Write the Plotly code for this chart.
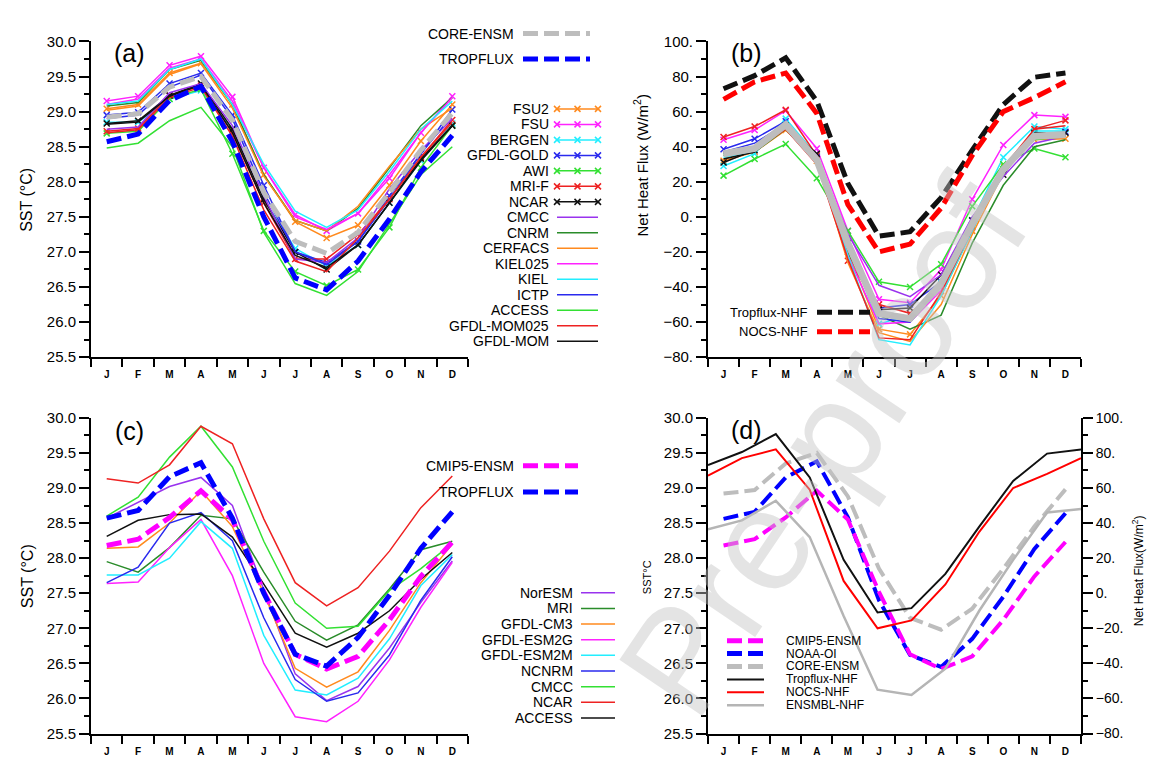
import plotly.graph_objects as go

W, H = 1155, 758
FONT = "Liberation Sans, Arial, sans-serif"

months = ["J", "F", "M", "A", "M", "J", "J", "A", "S", "O", "N", "D"]
mi = list(range(12))

# ---------------- Panel (a): SST of CORE-II models ----------------
sst_fsu2 = [29.04, 29.10, 29.55, 29.69, 29.10, 28.10, 27.43, 27.20, 27.38, 27.95, 28.58, 29.10]
sst_fsu = [29.15, 29.22, 29.66, 29.79, 29.21, 28.20, 27.53, 27.30, 27.55, 28.05, 28.70, 29.22]
sst_bergen = [28.85, 28.85, 29.18, 29.30, 28.75, 27.75, 27.05, 26.80, 27.10, 27.70, 28.30, 28.83]
sst_gold = [28.95, 28.99, 29.40, 29.55, 28.95, 27.95, 27.00, 26.85, 27.15, 27.80, 28.40, 29.03]
sst_awi = [28.69, 28.72, 29.18, 29.32, 28.40, 27.30, 26.72, 26.52, 26.75, 27.35, 28.20, 28.80]
sst_mrif = [28.72, 28.76, 29.23, 29.37, 28.70, 27.70, 26.90, 26.90, 27.25, 27.75, 28.35, 28.88]
sst_ncar = [28.83, 28.87, 29.23, 29.40, 28.75, 27.75, 27.00, 26.75, 27.10, 27.70, 28.33, 28.80]
sst_cmcc = [28.75, 28.78, 29.27, 29.40, 28.80, 27.80, 26.90, 26.85, 27.20, 27.90, 28.45, 28.90]
sst_cnrm = [29.08, 29.13, 29.60, 29.73, 29.10, 28.10, 27.45, 27.30, 27.62, 28.20, 28.80, 29.20]
sst_cerfacs = [29.02, 29.08, 29.53, 29.68, 29.05, 28.08, 27.45, 27.30, 27.65, 28.22, 28.75, 29.05]
sst_kiel025 = [29.10, 29.18, 29.62, 29.75, 29.15, 28.20, 27.50, 27.32, 27.55, 28.10, 28.70, 29.20]
sst_kiel = [29.10, 29.15, 29.60, 29.75, 29.10, 28.25, 27.58, 27.35, 27.60, 28.15, 28.75, 29.15]
sst_ictp = [28.90, 28.95, 29.35, 29.52, 28.90, 27.85, 27.00, 26.82, 27.15, 27.75, 28.40, 28.95]
sst_access = [28.48, 28.55, 28.87, 29.06, 28.50, 27.28, 26.55, 26.38, 26.72, 27.40, 28.10, 28.50]
sst_mom025 = [28.70, 28.74, 29.20, 29.35, 28.65, 27.60, 26.87, 26.72, 27.20, 27.75, 28.35, 28.85]
sst_mom = [28.82, 28.85, 29.22, 29.38, 28.70, 27.70, 26.95, 26.78, 27.10, 27.70, 28.30, 28.80]
sst_core_ensm = [28.92, 28.97, 29.35, 29.50, 28.88, 27.85, 27.15, 26.98, 27.28, 27.85, 28.45, 28.98]
sst_tropflux = [28.57, 28.68, 29.16, 29.36, 28.57, 27.50, 26.63, 26.46, 26.87, 27.47, 28.14, 28.66]

# ---------------- Panel (b): net heat flux of CORE-II models ----------------
nhf_fsu2 = [32, 37, 49.5, 32, -20, -64, -67, -45, -8, 29, 44, 44.5]
nhf_fsu = [44, 49.5, 60.5, 39, -8, -47, -49, -30, 10, 41, 58, 57]
nhf_bergen = [29, 36, 56, 35, -15, -61, -56, -38, -2, 34, 51.5, 50]
nhf_gold = [38.5, 44.5, 54.5, 34, -12, -52, -50, -37, -6, 26, 47, 48.5]
nhf_awi = [23.5, 33, 41.5, 22, -8, -37, -40, -27, 6, 30, 39, 34]
nhf_mrif = [45.5, 51.5, 61, 35, -25, -50, -55, -40, -5, 26, 50, 55]
nhf_ncar = [31, 38, 52, 36, -15, -53, -52, -33, -2, 24, 48, 48]
nhf_cmcc = [36, 38, 51, 35, -10, -39, -45.5, -33, 0, 23, 42, 46]
nhf_cnrm = [35, 37, 50, 31, -20, -56, -64, -56, -15, 18, 40, 44]
nhf_cerfacs = [33, 38, 51, 33, -26, -66, -71, -50, -10, 25, 45, 45]
nhf_kiel025 = [37, 39, 52, 33, -22, -61, -60, -42, -4, 27, 46, 46]
nhf_kiel = [34, 37, 53, 33, -22, -70, -73, -45, -8, 28, 49, 49]
nhf_ictp = [37, 42, 53, 34, -18, -58, -60, -40, -5, 26, 45, 47]
nhf_access = [36, 40, 52, 31, -15, -55, -58, -40, -3, 26, 44, 46]
nhf_mom025 = [37, 38, 50, 30, -24, -69, -70, -43, -7, 28, 50, 52]
nhf_mom = [33, 37, 52, 34, -16, -55, -58, -36, -3, 27, 47, 47]
nhf_core_ensm = [36, 39, 52.5, 32.5, -15, -55, -58, -38, -4, 27, 46, 47]
nhf_tropflux = [73, 80.5, 90.7, 66, 19, -11, -8.5, 11, 38, 64, 79.6, 82]
nhf_nocs = [67, 77, 82, 59, 7, -20, -15.5, 5, 35, 60, 68, 77]

# ---------------- Panel (c): SST of CMIP5 models ----------------
c_noresm = [28.57, 28.79, 29.02, 29.15, 28.75, 27.55, 26.35, 25.97, 26.17, 26.72, 27.37, 27.96]
c_mri = [27.95, 27.80, 28.15, 28.61, 28.56, 27.80, 27.10, 26.83, 27.05, 27.56, 28.12, 28.24]
c_cm3 = [28.14, 28.16, 28.50, 28.96, 28.45, 27.50, 26.43, 26.16, 26.38, 26.97, 27.65, 28.20]
c_esm2g = [27.64, 27.66, 28.15, 28.55, 27.75, 26.50, 25.74, 25.67, 25.96, 26.55, 27.30, 27.94]
c_esm2m = [27.76, 27.76, 28.00, 28.52, 28.14, 26.90, 26.12, 26.05, 26.29, 26.85, 27.61, 28.05]
c_ncnrm = [27.65, 27.87, 28.50, 28.65, 28.25, 27.15, 26.27, 25.96, 26.08, 26.62, 27.40, 28.02]
c_cmcc = [28.60, 28.87, 29.44, 29.88, 29.30, 28.24, 27.36, 27.00, 27.03, 27.54, 27.85, 28.21]
c_ncar = [29.13, 29.07, 29.33, 29.88, 29.63, 28.56, 27.65, 27.32, 27.58, 28.10, 28.72, 29.17]
c_access = [28.31, 28.54, 28.62, 28.63, 28.30, 27.63, 26.93, 26.73, 26.93, 27.25, 27.70, 28.08]
sst_cmip5_ensm = [28.18, 28.27, 28.58, 28.96, 28.55, 27.52, 26.63, 26.42, 26.60, 27.12, 27.74, 28.23]

# ---------------- Panel (d) ----------------
sst_noaa_oi = [28.56, 28.66, 29.15, 29.38, 28.58, 27.40, 26.62, 26.45, 26.85, 27.45, 28.13, 28.64]
nhf_ensmbl = [36.5, 41.5, 52.7, 32, -13, -55, -58, -43, -10, 19, 46, 48]

a_names = ["FSU2", "FSU", "BERGEN", "GFDL-GOLD", "AWI", "MRI-F", "NCAR", "CMCC", "CNRM",
           "CERFACS", "KIEL025", "KIEL", "ICTP", "ACCESS", "GFDL-MOM025", "GFDL-MOM"]
c_names = ["NorESM", "MRI", "GFDL-CM3", "GFDL-ESM2G", "GFDL-ESM2M", "NCNRM", "CMCC", "NCAR", "ACCESS"]
nhf_ticks = [-80, -60, -40, -20, 0, 20, 40, 60, 80, 100]

# ---------------- styles ----------------
ORANGE = "#ff8a1e"
MAGENTA = "#ff22ff"
CYAN = "#22eeff"
BLUE = "#2a2aee"
GREEN = "#33e033"
RED = "#ee2222"
BLACK = "#111111"
PURPLE = "#9933ee"
DKGREEN = "#2a8c2a"
GRAY = "#bdbdbd"
DASH = "15px,6px"

a_sst = [sst_fsu2, sst_fsu, sst_bergen, sst_gold, sst_awi, sst_mrif, sst_ncar, sst_cmcc, sst_cnrm,
         sst_cerfacs, sst_kiel025, sst_kiel, sst_ictp, sst_access, sst_mom025, sst_mom]
a_nhf = [nhf_fsu2, nhf_fsu, nhf_bergen, nhf_gold, nhf_awi, nhf_mrif, nhf_ncar, nhf_cmcc, nhf_cnrm,
         nhf_cerfacs, nhf_kiel025, nhf_kiel, nhf_ictp, nhf_access, nhf_mom025, nhf_mom]
a_colors = [ORANGE, MAGENTA, CYAN, BLUE, GREEN, RED, BLACK, PURPLE, DKGREEN,
            ORANGE, MAGENTA, CYAN, BLUE, GREEN, RED, BLACK]
a_marks = [True] * 7 + [False] * 9
c_vals = [c_noresm, c_mri, c_cm3, c_esm2g, c_esm2m, c_ncnrm, c_cmcc, c_ncar, c_access]
c_colors = [PURPLE, DKGREEN, ORANGE, MAGENTA, CYAN, BLUE, GREEN, RED, BLACK]


def px(x):
    return x / W


def py(y):
    return 1 - y / H


fig = go.Figure()


def add(x, y, xa, ya, color, width=1.5, dash=None, marker=False):
    kw = dict(x=x, y=y, xaxis=xa, yaxis=ya, showlegend=False, hoverinfo="skip",
              line=dict(color=color, width=width, dash=dash),
              mode="lines+markers" if marker else "lines")
    if marker:
        kw["marker"] = dict(symbol="x-thin", size=6, line=dict(color=color, width=1.5))
    fig.add_trace(go.Scatter(**kw))


# panel (a)
for vals, col, mk in zip(a_sst, a_colors, a_marks):
    add(mi, vals, "x", "y", col, 1.5, None, mk)
add(mi, sst_core_ensm, "x", "y", GRAY, 5, DASH)
add(mi, sst_tropflux, "x", "y", "#0000ff", 5, DASH)

# panel (b)
for vals, col, mk in zip(a_nhf, a_colors, a_marks):
    add(mi, vals, "x2", "y2", col, 1.5, None, mk)
add(mi, nhf_core_ensm, "x2", "y2", GRAY, 7)
add(mi, nhf_tropflux, "x2", "y2", BLACK, 5, DASH)
add(mi, nhf_nocs, "x2", "y2", "#ff0000", 5, DASH)

# panel (c)
for vals, col in zip(c_vals, c_colors):
    add(mi, vals, "x3", "y3", col, 1.5)
add(mi, sst_cmip5_ensm, "x3", "y3", "#ff00ff", 5, DASH)
add(mi, sst_tropflux, "x3", "y3", "#0000ff", 5, DASH)

# panel (d)
add(mi, sst_core_ensm, "x4", "y4", GRAY, 4, DASH)
add(mi, sst_noaa_oi, "x4", "y4", "#0000ff", 4, DASH)
add(mi, sst_cmip5_ensm, "x4", "y4", "#ff00ff", 4, DASH)
add(mi, nhf_ensmbl, "x5", "y5", "#b5b5b5", 2.5)
add(mi, nhf_tropflux, "x5", "y5", BLACK, 2)
add(mi, nhf_nocs, "x5", "y5", "#ff0000", 2)

# ---------------- legends (helper axis in pixel units) ----------------
ann = []


def leg_line(x0, x1, yy, color, width=1.5, dash=None, marker=False):
    xs = [x0, (x0 + x1) / 2, x1]
    add(xs, [yy] * 3, "x6", "y6", color, width, dash, marker)


def text(x, y, s, size=14, anchor="right", angle=0, color="black", weight="normal"):
    ann.append(dict(x=px(x), y=py(y), xref="paper", yref="paper", text=s, showarrow=False,
                    xanchor=anchor, yanchor="middle", textangle=angle,
                    font=dict(family=FONT, size=size, color=color, weight=weight)))


# watermark (drawn first so it sits beneath the other annotations)
ann.append(dict(x=px(815), y=py(440), xref="paper", yref="paper", text="Pre-proof",
                showarrow=False, xanchor="center", yanchor="middle", textangle=-56,
                font=dict(family=FONT, size=145, color="rgba(195,195,195,0.45)")))

# (a) top legend
text(508, 17, "CORE-ENSM", 14)
leg_line(515, 582, 17, GRAY, 5, DASH)
text(508, 43, "TROPFLUX", 14)
leg_line(515, 582, 43, "#0000ff", 5, DASH)
# (a) model legend
for i, (nm, col, mk) in enumerate(zip(a_names, a_colors, a_marks)):
    yy = 94 + i * 15.85
    text(543, yy, nm, 14)
    leg_line(549, 590, yy, col, 1.5, None, mk)

# (b) legend
text(802, 302, "Tropflux-NHF", 13)
leg_line(809, 862, 302, BLACK, 5, DASH)
text(802, 322, "NOCS-NHF", 13)
leg_line(809, 862, 322, "#ff0000", 5, DASH)

# (c) legends
text(508, 459, "CMIP5-ENSM", 14)
leg_line(515, 570, 459, "#ff00ff", 5, DASH)
text(508, 486, "TROPFLUX", 14)
leg_line(515, 570, 486, "#0000ff", 5, DASH)
for i, (nm, col) in enumerate(zip(c_names, c_colors)):
    yy = 589 + i * 16
    text(567, yy, nm, 14)
    leg_line(573, 607, yy, col, 1.5)

# (d) legend
d_leg = [("CMIP5-ENSM", "#ff00ff", 5, DASH), ("NOAA-OI", "#0000ff", 5, DASH),
         ("CORE-ENSM", GRAY, 5, DASH), ("Tropflux-NHF", BLACK, 2, None),
         ("NOCS-NHF", "#ff0000", 2, None), ("ENSMBL-NHF", "#b5b5b5", 2.5, None)]
for i, (nm, col, wd, ds) in enumerate(d_leg):
    yy = 638 + i * 13.2
    text(776, yy, nm, 12, anchor="left")
    leg_line(719, 756, yy, col, wd, ds)

# panel labels & axis titles
text(121, 37, "(a)", 25, anchor="center")
text(738, 37, "(b)", 25, anchor="center")
text(121, 424, "(c)", 25, anchor="center")
text(738, 422, "(d)", 25, anchor="center")
text(19, 187, "SST (°C)", 16, anchor="center", angle=-90)
text(19, 572, "SST (°C)", 16, anchor="center", angle=-90)
text(633, 152, "Net Heat Flux (W/m<sup>2</sup>)", 15, anchor="center", angle=-90)
text(639, 573, "SST°C", 11, anchor="center", angle=-90)
text(1130, 567, "Net Heat Flux(W/m<sup>2</sup>)", 12, anchor="center", angle=-90)

# ---------------- axes ----------------
XA = [px(83), px(460)]
XB = [px(700), px(1073)]
YT = [py(348), py(25)]
YB = [py(733), py(410)]


def xax(domain, anchor):
    return dict(domain=domain, anchor=anchor, range=[-0.5, 11.5], tickmode="array",
                tickvals=mi, ticktext=months, ticks="", showline=True, linecolor="black",
                linewidth=2, showgrid=False, zeroline=False, ticklabelstandoff=7,
                tickfont=dict(family=FONT, size=10, color="black", weight="bold"),
                minor=dict(ticks="outside", tickmode="linear", tick0=-0.5, dtick=1,
                           ticklen=8, tickwidth=2, tickcolor="black", showgrid=False))


def ysst(domain, anchor):
    return dict(domain=domain, anchor=anchor, range=[25.5, 30.0], tickmode="linear",
                tick0=25.5, dtick=0.5, tickformat=".1f", ticks="outside", ticklen=10,
                tickwidth=2, tickcolor="black", showline=True, linecolor="black",
                linewidth=2, showgrid=False, zeroline=False,
                tickfont=dict(family=FONT, size=15, color="black"),
                minor=dict(ticks="outside", tickmode="linear", tick0=25.5, dtick=0.25,
                           ticklen=5, tickwidth=1.5, tickcolor="black", showgrid=False))


def ynhf(domain, anchor, **extra):
    d = dict(domain=domain, anchor=anchor, range=[-80, 100], tickmode="array",
             tickvals=nhf_ticks, ticktext=[f"{v}.".replace("-", "\u2212") for v in nhf_ticks],
             ticks="outside", ticklen=10, tickwidth=2, tickcolor="black", showline=True,
             linecolor="black", linewidth=2, showgrid=False, zeroline=False,
             tickfont=dict(family=FONT, size=15, color="black"),
             minor=dict(ticks="outside", tickmode="linear", tick0=-80, dtick=10,
                        ticklen=5, tickwidth=1.5, tickcolor="black", showgrid=False))
    d.update(extra)
    return d


fig.update_layout(
    width=W, height=H, margin=dict(l=0, r=0, t=0, b=0),
    paper_bgcolor="white", plot_bgcolor="rgba(0,0,0,0)",
    showlegend=False,
    xaxis=xax(XA, "y"), yaxis=ysst(YT, "x"),
    xaxis2=xax(XB, "y2"), yaxis2=ynhf(YT, "x2"),
    xaxis3=xax(XA, "y3"), yaxis3=ysst(YB, "x3"),
    xaxis4=xax(XB, "y4"), yaxis4=ysst(YB, "x4"),
    xaxis5=dict(overlaying="x4", range=[0, 11], visible=False, anchor="y5"),
    yaxis5=ynhf(YB, "x4", overlaying="y4", side="right",
                tickfont=dict(family=FONT, size=14, color="black")),
    xaxis6=dict(domain=[0, 1], range=[0, W], visible=False, anchor="y6", fixedrange=True),
    yaxis6=dict(domain=[0, 1], range=[H, 0], visible=False, anchor="x6", fixedrange=True),
    annotations=ann,
)

fig.write_html("out.html")
